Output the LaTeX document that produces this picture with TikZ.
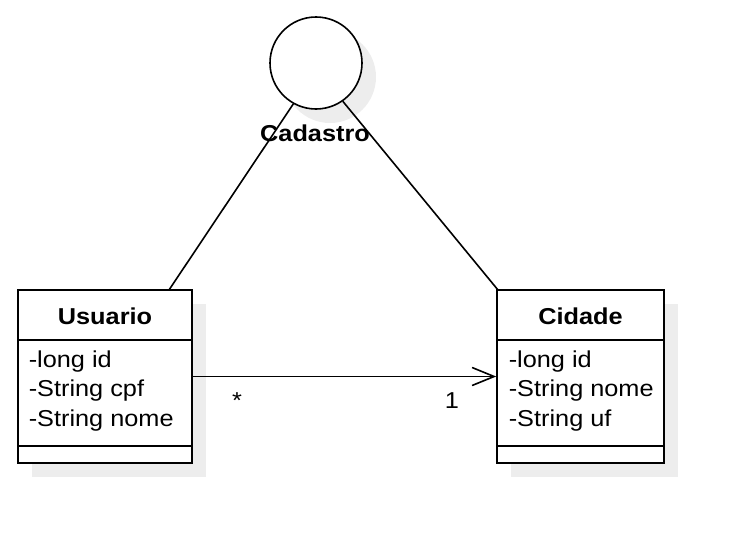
\documentclass[tikz,border=0pt]{standalone}
\usepackage{fontspec}
\setmainfont[FakeStretch=1.1]{Liberation Sans}
\usetikzlibrary{arrows.meta}
\begin{document}
\begin{tikzpicture}[x=1pt,y=-1pt,line width=1.6pt,
  shadowfill/.style={fill=black!7,draw=none},
  classbox/.style={draw,fill=white,rectangle,minimum height=173pt,inner sep=0pt},
  attr/.style={inner sep=0pt,anchor=base west,font=\fontsize{23}{27}\selectfont},
  title/.style={inner sep=0pt,anchor=base,font=\fontsize{23}{27}\selectfont\bfseries},
  mult/.style={inner sep=0pt,anchor=base,font=\fontsize{23}{27}\selectfont},
  assoc/.style={draw,-{Straight Barb[length=22pt,width=18pt,line width=1.6pt]}},
  link/.style={draw}]
\useasboundingbox (0,0) rectangle (746,546);
% shadows
\fill[shadowfill] (330,77) circle[radius=46pt];
\fill[shadowfill] (32,304) rectangle (206,477);
\fill[shadowfill] (511,304) rectangle (678,477);
% actor circle
\node[draw,fill=white,circle,minimum size=92pt,inner sep=0pt] (cadastro) at (316,63) {};
\node[title] (cadlabel) at (315,141) {Cadastro};
% classes
\node[classbox,minimum width=174pt] (usuario) at (105,376.5) {};
\node[classbox,minimum width=167pt] (cidade) at (580.5,376.5) {};
\draw (usuario.west |- 0,340) -- (usuario.east |- 0,340);
\draw (usuario.west |- 0,446) -- (usuario.east |- 0,446);
\draw (cidade.west |- 0,340) -- (cidade.east |- 0,340);
\draw (cidade.west |- 0,446) -- (cidade.east |- 0,446);
\node[title] (utitle) at (105,324) {Usuario};
\node[attr] (u1) at (28,367) {-long id};
\node[attr] (u2) at (28,396.5) {-String cpf};
\node[attr] (u3) at (28,426) {-String nome};
\node[title] (ctitle) at (580.5,324) {Cidade};
\node[attr] (c1) at (508,367) {-long id};
\node[attr] (c2) at (508,396.5) {-String nome};
\node[attr] (c3) at (508,426) {-String uf};
% connectors
\coordinate (uend) at (169,290);
\coordinate (cend) at (498,290);
\draw[link] (cadastro.241) -- (uend);
\draw[link] (cadastro.305) -- (cend);
\draw[assoc] (usuario.east) -- (cidade.west);
\node[mult] (m1) at (237,408) {*};
\node[mult] (m2) at (452,408) {1};
\end{tikzpicture}
\end{document}
